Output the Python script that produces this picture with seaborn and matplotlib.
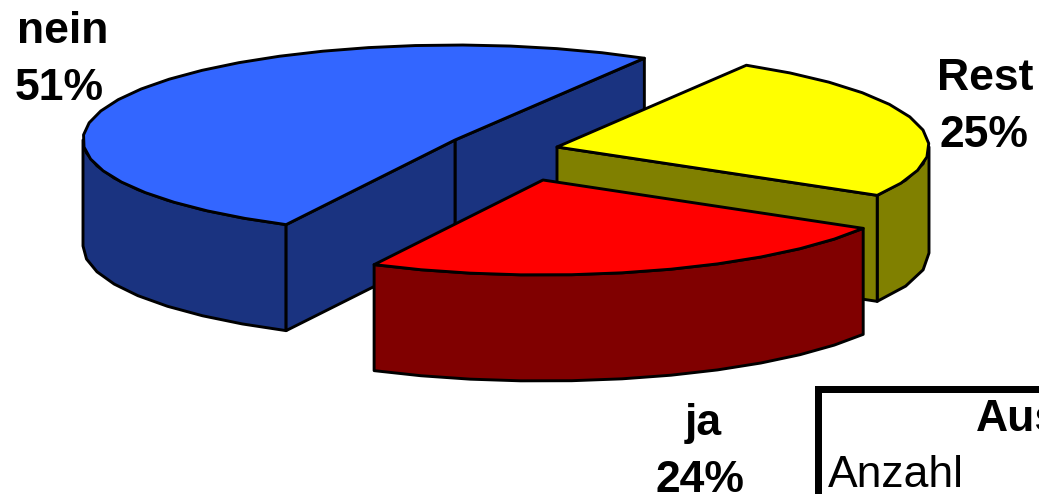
import numpy as np
import seaborn as sns
from matplotlib import pyplot as plt
from matplotlib.patches import Rectangle

# slices, counter-clockwise from the start angle
slice_names = ['nein', 'ja', 'Rest']
slice_shares = [51, 24, 25]
top_colors = ['#3366FF', '#FF0000', '#FFFF00']
side_colors = ['#1A3380', '#800000', '#808000']

table_title = 'Auswertung'
table_row = 'Anzahl'

# apex of each exploded slice, in pixels
centres = {'nein': (455, 140), 'ja': (543, 180), 'Rest': (557, 147)}
name_pos = {'nein': (63, 43), 'ja': (703, 435), 'Rest': (985, 90)}
share_pos = {'nein': (59, 100), 'ja': (700, 492), 'Rest': (984, 147)}

START_ANGLE = 59.4
RADIUS_X, RADIUS_Y = 372, 95
DEPTH = 106
LINE = 2.1
FONT_SIZE = 32


def arc(centre, t0, t1):
    """Points of the pie rim between two angles, in a coarse polyline."""
    n = max(int((t1 - t0) / 7), 2)
    t = np.radians(np.linspace(t0, t1, n))
    return centre[0] + RADIUS_X * np.cos(t), centre[1] - RADIUS_Y * np.sin(t)


def draw_slice(ax, centre, t0, t1, top, side):
    style = {'edgecolor': 'black', 'linewidth': LINE, 'joinstyle': 'round'}

    lo, hi = max(t0, 180), min(t1, 360)
    if lo < hi:
        x, y = arc(centre, lo, hi)
        ax.fill(np.r_[x, x[::-1]], np.r_[y, y[::-1] + DEPTH], facecolor=side, **style)

    # the two cut faces, only where they look at the viewer
    for angle, visible in ((t0, np.cos(np.radians(t0)) > 0), (t1, np.cos(np.radians(t1)) < 0)):
        if visible:
            ex, ey = arc(centre, angle, angle + 1e-6)
            ex, ey = ex[0], ey[0]
            ax.fill([centre[0], ex, ex, centre[0]],
                    [centre[1], ey, ey + DEPTH, centre[1] + DEPTH], facecolor=side, **style)

    x, y = arc(centre, t0, t1)
    ax.fill(np.r_[centre[0], x], np.r_[centre[1], y], facecolor=top, **style)


sns.set_theme(style='white')
plt.rcParams['font.family'] = ['Liberation Sans', 'DejaVu Sans']

fig = plt.figure(figsize=(10.39, 4.94), dpi=100)
ax = fig.add_axes([0, 0, 1, 1])
ax.set_xlim(0, 1039)
ax.set_ylim(494, 0)
ax.axis('off')

edges = START_ANGLE + np.cumsum([0] + slice_shares) * 3.6
spans = {n: (edges[i], edges[i + 1], top_colors[i], side_colors[i]) for i, n in enumerate(slice_names)}

# back to front
for name in ['nein', 'Rest', 'ja']:
    t0, t1, top, side = spans[name]
    draw_slice(ax, centres[name], t0, t1, top, side)

for name, share in zip(slice_names, slice_shares):
    ax.text(*name_pos[name], name, ha='center', va='baseline', fontsize=FONT_SIZE, fontweight='bold', color='black')
    ax.text(*share_pos[name], f'{share}%', ha='center', va='baseline', fontsize=FONT_SIZE, fontweight='bold', color='black')

# corner of the table that sits below the chart, cut off by the image edge
ax.add_patch(Rectangle((815, 386), 300, 200, facecolor='black', edgecolor='none'))
ax.add_patch(Rectangle((822, 393), 300, 200, facecolor='white', edgecolor='none'))
ax.text(976, 431, table_title, ha='left', va='baseline', fontsize=FONT_SIZE, fontweight='bold', color='black')
ax.text(828, 487, table_row, ha='left', va='baseline', fontsize=FONT_SIZE, color='black')

fig.savefig('out.png', dpi=100)
